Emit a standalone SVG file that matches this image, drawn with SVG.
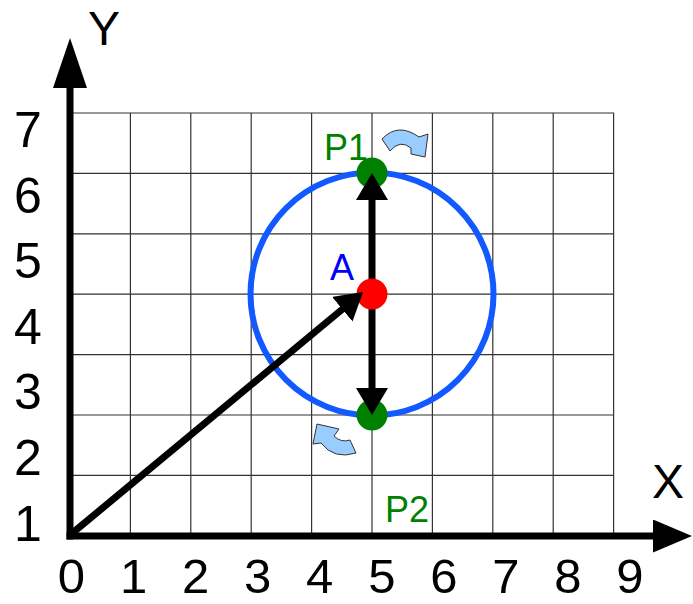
<svg xmlns="http://www.w3.org/2000/svg" width="693" height="604" viewBox="0 0 693 604">
<style>
.grid line{stroke:#333;stroke-width:1.2}
.num{font-family:"Liberation Sans",Arial,sans-serif;font-size:50px;fill:#000;text-anchor:middle}
.xnum{font-size:49px}
.axl{font-family:"Liberation Sans",Arial,sans-serif;font-size:48px;fill:#000;text-anchor:middle}
.lbl{font-family:"Liberation Sans",Arial,sans-serif;font-size:36px}
.vec{stroke:#000;stroke-width:7;fill:none}
.rot{fill:#99ccff;stroke:#333;stroke-width:1}
</style>
<defs>
<marker id="vh" viewBox="0 -16 27 32" refX="12" refY="0" markerWidth="27" markerHeight="32" markerUnits="userSpaceOnUse" orient="auto"><path d="M0,-16 L27,0 L0,16 Z" fill="#000"/></marker>
<marker id="ya" viewBox="0 -17 50 34" refX="28" refY="0" markerWidth="50" markerHeight="34" markerUnits="userSpaceOnUse" orient="auto"><path d="M0,-17 L50,0 L0,17 Z" fill="#000"/></marker>
<marker id="xa" viewBox="0 -16.5 39 33" refX="17" refY="0" markerWidth="39" markerHeight="33" markerUnits="userSpaceOnUse" orient="auto"><path d="M0,-16.5 L39,0 L0,16.5 Z" fill="#000"/></marker>
</defs>
<rect width="693" height="604" fill="#fff"/>
<g id="grid" class="grid">
<line x1="70" y1="113" x2="614" y2="113"/>
<line x1="70" y1="173.4" x2="614" y2="173.4"/>
<line x1="70" y1="233.8" x2="614" y2="233.8"/>
<line x1="70" y1="294.2" x2="614" y2="294.2"/>
<line x1="70" y1="354.6" x2="614" y2="354.6"/>
<line x1="70" y1="415" x2="614" y2="415"/>
<line x1="70" y1="475.4" x2="614" y2="475.4"/>
<line x1="130.4" y1="113" x2="130.4" y2="536"/>
<line x1="190.8" y1="113" x2="190.8" y2="536"/>
<line x1="251.2" y1="113" x2="251.2" y2="536"/>
<line x1="311.6" y1="113" x2="311.6" y2="536"/>
<line x1="372" y1="113" x2="372" y2="536"/>
<line x1="432.4" y1="113" x2="432.4" y2="536"/>
<line x1="492.8" y1="113" x2="492.8" y2="536"/>
<line x1="553.2" y1="113" x2="553.2" y2="536"/>
<line x1="613.6" y1="113" x2="613.6" y2="536"/>
</g>
<g id="axes">
<line x1="70" y1="539.5" x2="70" y2="60" stroke="#000" stroke-width="7" marker-end="url(#ya)"/>
<line x1="66.5" y1="536" x2="670" y2="536" stroke="#000" stroke-width="7" marker-end="url(#xa)"/>
<text class="axl" x="104" y="45">Y</text>
<text class="axl" x="668" y="498">X</text>
</g>
<g id="y-labels" class="num">
<text x="28" y="147">7</text>
<text x="28" y="213">6</text>
<text x="28" y="278">5</text>
<text x="28" y="344">4</text>
<text x="28" y="409">3</text>
<text x="28" y="475">2</text>
<text x="28" y="541">1</text>
</g>
<g id="x-labels" class="num xnum">
<text x="71.5" y="593">0</text>
<text x="133.6" y="593">1</text>
<text x="195.6" y="593">2</text>
<text x="257.7" y="593">3</text>
<text x="319.7" y="593">4</text>
<text x="381.8" y="593">5</text>
<text x="443.9" y="593">6</text>
<text x="505.9" y="593">7</text>
<text x="568" y="593">8</text>
<text x="630" y="593">9</text>
</g>
<g id="circle">
<circle cx="372" cy="294" r="121.5" fill="none" stroke="#1259ff" stroke-width="6"/>
</g>
<g id="P1">
<circle cx="372" cy="173" r="15.5" fill="#008000"/>
<text class="lbl" x="324" y="160" fill="#008000">P1</text>
<path class="rot" d="M382,139 Q398,122 419,137 L428,134 L425,157 L411,154 L411,148 Q400,139 390,151 Z"/>
</g>
<g id="P2">
<circle cx="372" cy="415" r="15.5" fill="#008000"/>
<text class="lbl" x="385" y="522" fill="#008000">P2</text>
<path class="rot" d="M317,424 L339,429 L334,436 Q341,443 350,440 L356,453 Q334,460 321,443 L313,444 Z"/>
</g>
<g id="connectors">
<line class="vec" x1="372" y1="294" x2="372" y2="188" marker-end="url(#vh)"/>
<line class="vec" x1="372" y1="294" x2="372" y2="400" marker-end="url(#vh)"/>
</g>
<g id="A">
<circle cx="372" cy="294" r="15.5" fill="#ff0000"/>
<text class="lbl" x="330" y="280" fill="#0000ff">A</text>
</g>
<g id="connector-OA">
<line class="vec" x1="70" y1="535" x2="351.5" y2="301.6" marker-end="url(#vh)"/>
</g>
</svg>
